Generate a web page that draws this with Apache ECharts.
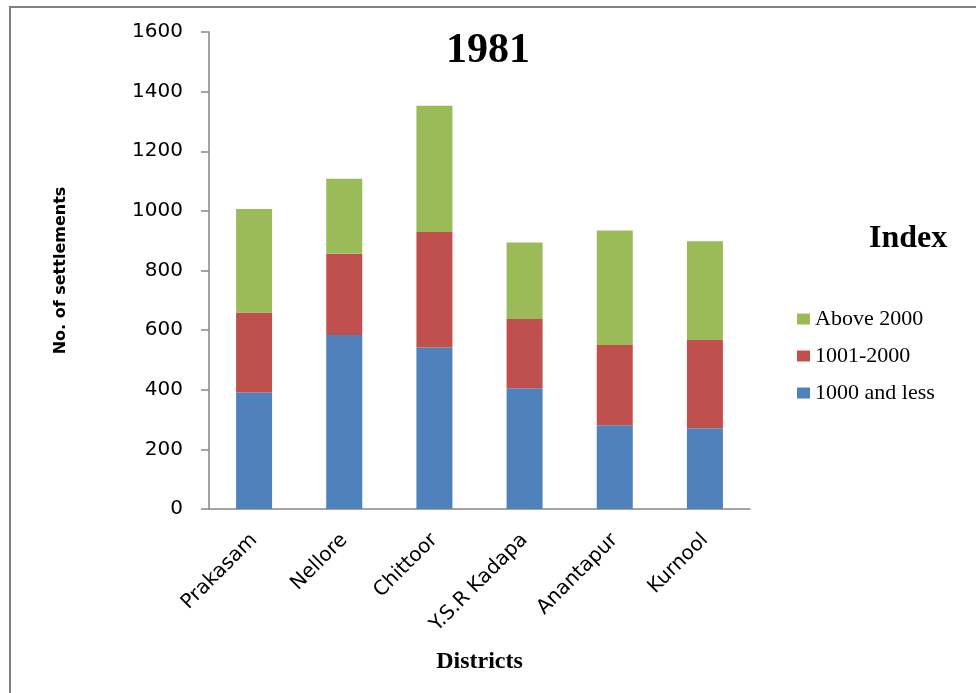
<!DOCTYPE html>
<html>
<head>
<meta charset="utf-8">
<script src="https://cdn.jsdelivr.net/npm/echarts@6/dist/echarts.min.js"></script>
<style>
html,body{margin:0;padding:0;background:#fff;}
#chart{width:976px;height:693px;}
</style>
</head>
<body>
<div id="chart"></div>
<script>
const categories = ['Prakasam', 'Nellore', 'Chittoor', 'Y.S.R Kadapa', 'Anantapur', 'Kurnool'];
const lessThan1000 = [391, 584, 542, 405, 281, 271];
const from1001to2000 = [268, 272, 387, 232, 269, 296];
const above2000 = [347, 252, 424, 257, 384, 331];
const yTicks = [0, 200, 400, 600, 800, 1000, 1200, 1400, 1600];

const chart = echarts.init(document.getElementById('chart'));
const axisColor = '#868686';
const sans = 'DejaVu Sans';
const serif = 'Liberation Serif';

chart.setOption({
  animation: false,
  backgroundColor: '#fff',
  graphic: [{
    type: 'rect',
    shape: { x: 10, y: 7, width: 1100, height: 1000 },
    style: { fill: 'none', stroke: '#808080', lineWidth: 2 },
    silent: true
  }],
  title: [{
    text: '1981',
    left: 'center',
    top: 30,
    padding: 0,
    textStyle: { fontFamily: serif, fontWeight: 'bold', fontSize: 42, color: '#000' }
  }, {
    text: 'Index',
    left: 869,
    top: 223,
    padding: 0,
    textStyle: { fontFamily: serif, fontWeight: 'bold', fontSize: 32, color: '#000' }
  }],
  legend: {
    orient: 'vertical',
    left: 792,
    top: 303,
    itemWidth: 13,
    itemHeight: 11,
    itemGap: 15,
    icon: 'rect',
    data: ['Above 2000', '1001-2000', '1000 and less'],
    textStyle: { fontFamily: serif, fontSize: 22, color: '#000', lineHeight: 22 }
  },
  grid: { left: 209, right: 226, top: 32, bottom: 184 },
  xAxis: {
    type: 'category',
    data: categories,
    name: 'Districts',
    nameLocation: 'middle',
    nameGap: 141,
    nameTextStyle: { fontFamily: serif, fontWeight: 'bold', fontSize: 24, color: '#000' },
    axisLine: { lineStyle: { color: axisColor, width: 1.5 } },
    axisTick: { length: 6, lineStyle: { color: axisColor, width: 1.5 } },
    axisLabel: { rotate: 45, margin: 28, fontFamily: sans, fontSize: 20, color: '#000' }
  },
  yAxis: {
    type: 'value',
    min: 0,
    max: 1600,
    interval: 200,
    name: 'No. of settlements',
    nameLocation: 'middle',
    nameGap: 140,
    nameTextStyle: { fontFamily: sans, fontWeight: 'bold', fontSize: 16, color: '#000' },
    axisLine: { show: true, lineStyle: { color: axisColor, width: 1.5 } },
    axisTick: { show: true, length: 8, lineStyle: { color: axisColor, width: 1.5 } },
    splitLine: { show: false },
    axisLabel: {
      margin: 26, fontFamily: sans, fontSize: 20, color: '#000',
      formatter: v => yTicks.includes(v) ? String(v) : ''
    }
  },
  series: [{
    name: '1000 and less', type: 'bar', stack: 'total', barWidth: 36,
    data: lessThan1000, itemStyle: { color: '#4F81BD' }
  }, {
    name: '1001-2000', type: 'bar', stack: 'total', barWidth: 36,
    data: from1001to2000, itemStyle: { color: '#C0504D' }
  }, {
    name: 'Above 2000', type: 'bar', stack: 'total', barWidth: 36,
    data: above2000, itemStyle: { color: '#9BBB59' }
  }]
});
</script>
</body>
</html>
